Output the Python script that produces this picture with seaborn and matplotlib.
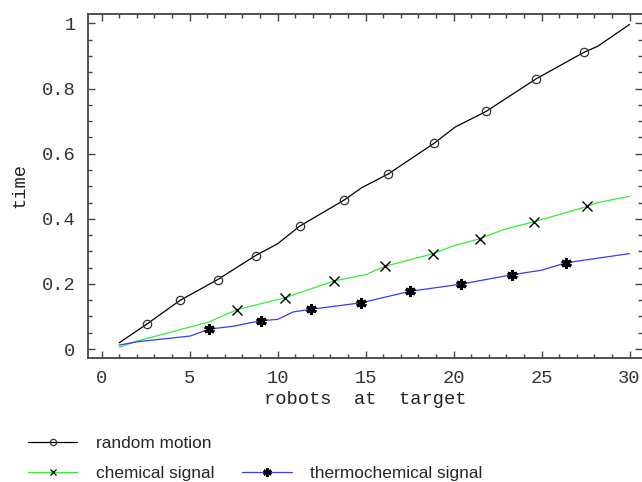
import pandas as pd
import matplotlib
matplotlib.use("Agg")
import matplotlib.pyplot as plt
from matplotlib.lines import Line2D
from matplotlib.ticker import MultipleLocator
import seaborn as sns

# line vertices
random_x = [1, 2.56, 4.45, 6.59, 8.75, 10.0, 11.25, 13.8, 14.8, 16.3, 18.9, 20.1, 21.86, 23.05, 24.7, 27.4, 28.2, 30]
random_y = [0.019, 0.076, 0.149, 0.213, 0.287, 0.323, 0.377, 0.458, 0.496, 0.538, 0.632, 0.682, 0.73, 0.772, 0.83, 0.911, 0.93, 0.997]
chem_x = [1, 2, 6.1, 7.7, 10.4, 13.2, 15.0, 16.1, 18.85, 19.9, 21.5, 22.95, 24.6, 27.6, 28.2, 30]
chem_y = [0.005, 0.024, 0.083, 0.121, 0.157, 0.209, 0.228, 0.254, 0.293, 0.315, 0.339, 0.369, 0.391, 0.438, 0.45, 0.469]
thermo_x = [1, 2, 5.05, 6.1, 7.5, 9.06, 10.0, 10.9, 11.9, 14.75, 17.5, 20.4, 23.3, 25.0, 26.4, 30]
thermo_y = [0.012, 0.022, 0.040, 0.061, 0.070, 0.087, 0.091, 0.114, 0.122, 0.142, 0.177, 0.199, 0.228, 0.242, 0.265, 0.293]

# marker positions
random_mx = [2.56, 4.45, 6.59, 8.75, 11.25, 13.8, 16.3, 18.9, 21.86, 24.7, 27.4]
random_my = [0.076, 0.149, 0.213, 0.287, 0.377, 0.458, 0.538, 0.632, 0.73, 0.83, 0.911]
chem_mx = [7.7, 10.4, 13.2, 16.1, 18.85, 21.5, 24.6, 27.6]
chem_my = [0.121, 0.157, 0.209, 0.254, 0.293, 0.339, 0.391, 0.438]
thermo_mx = [6.1, 9.06, 11.9, 14.75, 17.5, 20.4, 23.3, 26.4]
thermo_my = [0.061, 0.087, 0.122, 0.142, 0.177, 0.199, 0.228, 0.265]

labels = ["random motion", "chemical signal", "thermochemical signal"]
colors = {"random motion": "#000000", "chemical signal": "#33ee33", "thermochemical signal": "#3a3af5"}

df = pd.concat([
    pd.DataFrame({"robots": random_x, "time": random_y, "series": labels[0]}),
    pd.DataFrame({"robots": chem_x, "time": chem_y, "series": labels[1]}),
    pd.DataFrame({"robots": thermo_x, "time": thermo_y, "series": labels[2]}),
])

sns.set_style("ticks")
mono = "Liberation Mono"

fig = plt.figure(figsize=(6.42, 4.82), dpi=100)
ax = fig.add_axes([88 / 642, 1 - 357.7 / 482, 554 / 642, 343.7 / 482])

sns.lineplot(data=df, x="robots", y="time", hue="series", palette=colors,
             estimator=None, sort=False, linewidth=0.9, legend=False, ax=ax)

ax.plot(random_mx, random_my, ls="none", marker="o", ms=6, mfc="none", mec="#333333", mew=0.9)
ax.plot(chem_mx, chem_my, ls="none", marker="x", ms=6.5, mec="black", mew=1.0)
ax.plot(thermo_mx, thermo_my, ls="none", marker=(6, 2, 0), ms=7.5, mec="black", mew=2.2)

ax.set_xlim(-0.77, 30.71)
ax.set_ylim(-0.0267, 1.029)
ax.xaxis.set_major_locator(MultipleLocator(5))
ax.xaxis.set_minor_locator(MultipleLocator(1))
ax.yaxis.set_major_locator(MultipleLocator(0.2))
ax.yaxis.set_minor_locator(MultipleLocator(0.05))
ax.set_yticks([0, 0.2, 0.4, 0.6, 0.8, 1.0])
ax.set_yticklabels(["0", "0.2", "0.4", "0.6", "0.8", "1"])

spine_c = "#444444"
for s in ax.spines.values():
    s.set_color(spine_c)
    s.set_linewidth(1.3)
ax.spines["right"].set_visible(False)
ax.tick_params(which="both", direction="in", top=True, right=True, color=spine_c, width=1.0)
ax.tick_params(which="major", length=5, pad=9, labelsize=13.5, labelcolor="#333333")
ax.tick_params(which="minor", length=3)
for t in ax.get_xticklabels() + ax.get_yticklabels():
    t.set_fontfamily(mono)

ax.set_xlabel("robots  at  target", fontfamily=mono, fontsize=13.5, color="#222222", labelpad=3)
ax.set_ylabel("time", fontfamily=mono, fontsize=13.5, color="#222222", labelpad=10)

handles = [
    Line2D([], [], color="black", lw=0.9, marker="o", ms=4.5, mfc="none", mec="#333333", mew=0.9),
    Line2D([], [], color=colors[labels[1]], lw=0.9, marker="x", ms=5, mec="black", mew=0.9),
    Line2D([], [], color="none"),
    Line2D([], [], color=colors[labels[2]], lw=0.9, marker=(6, 2, 0), ms=6, mec="black", mew=1.8),
]
fig.legend(handles, [labels[0], labels[1], "", labels[2]], ncol=2, loc="lower left",
           bbox_to_anchor=(0.02, -0.03), frameon=False,
           prop={"family": "Liberation Sans", "size": 12.4},
           handlelength=2.85, handletextpad=1.1, columnspacing=1.6, labelspacing=0.84)

fig.savefig("out.png", dpi=100)
